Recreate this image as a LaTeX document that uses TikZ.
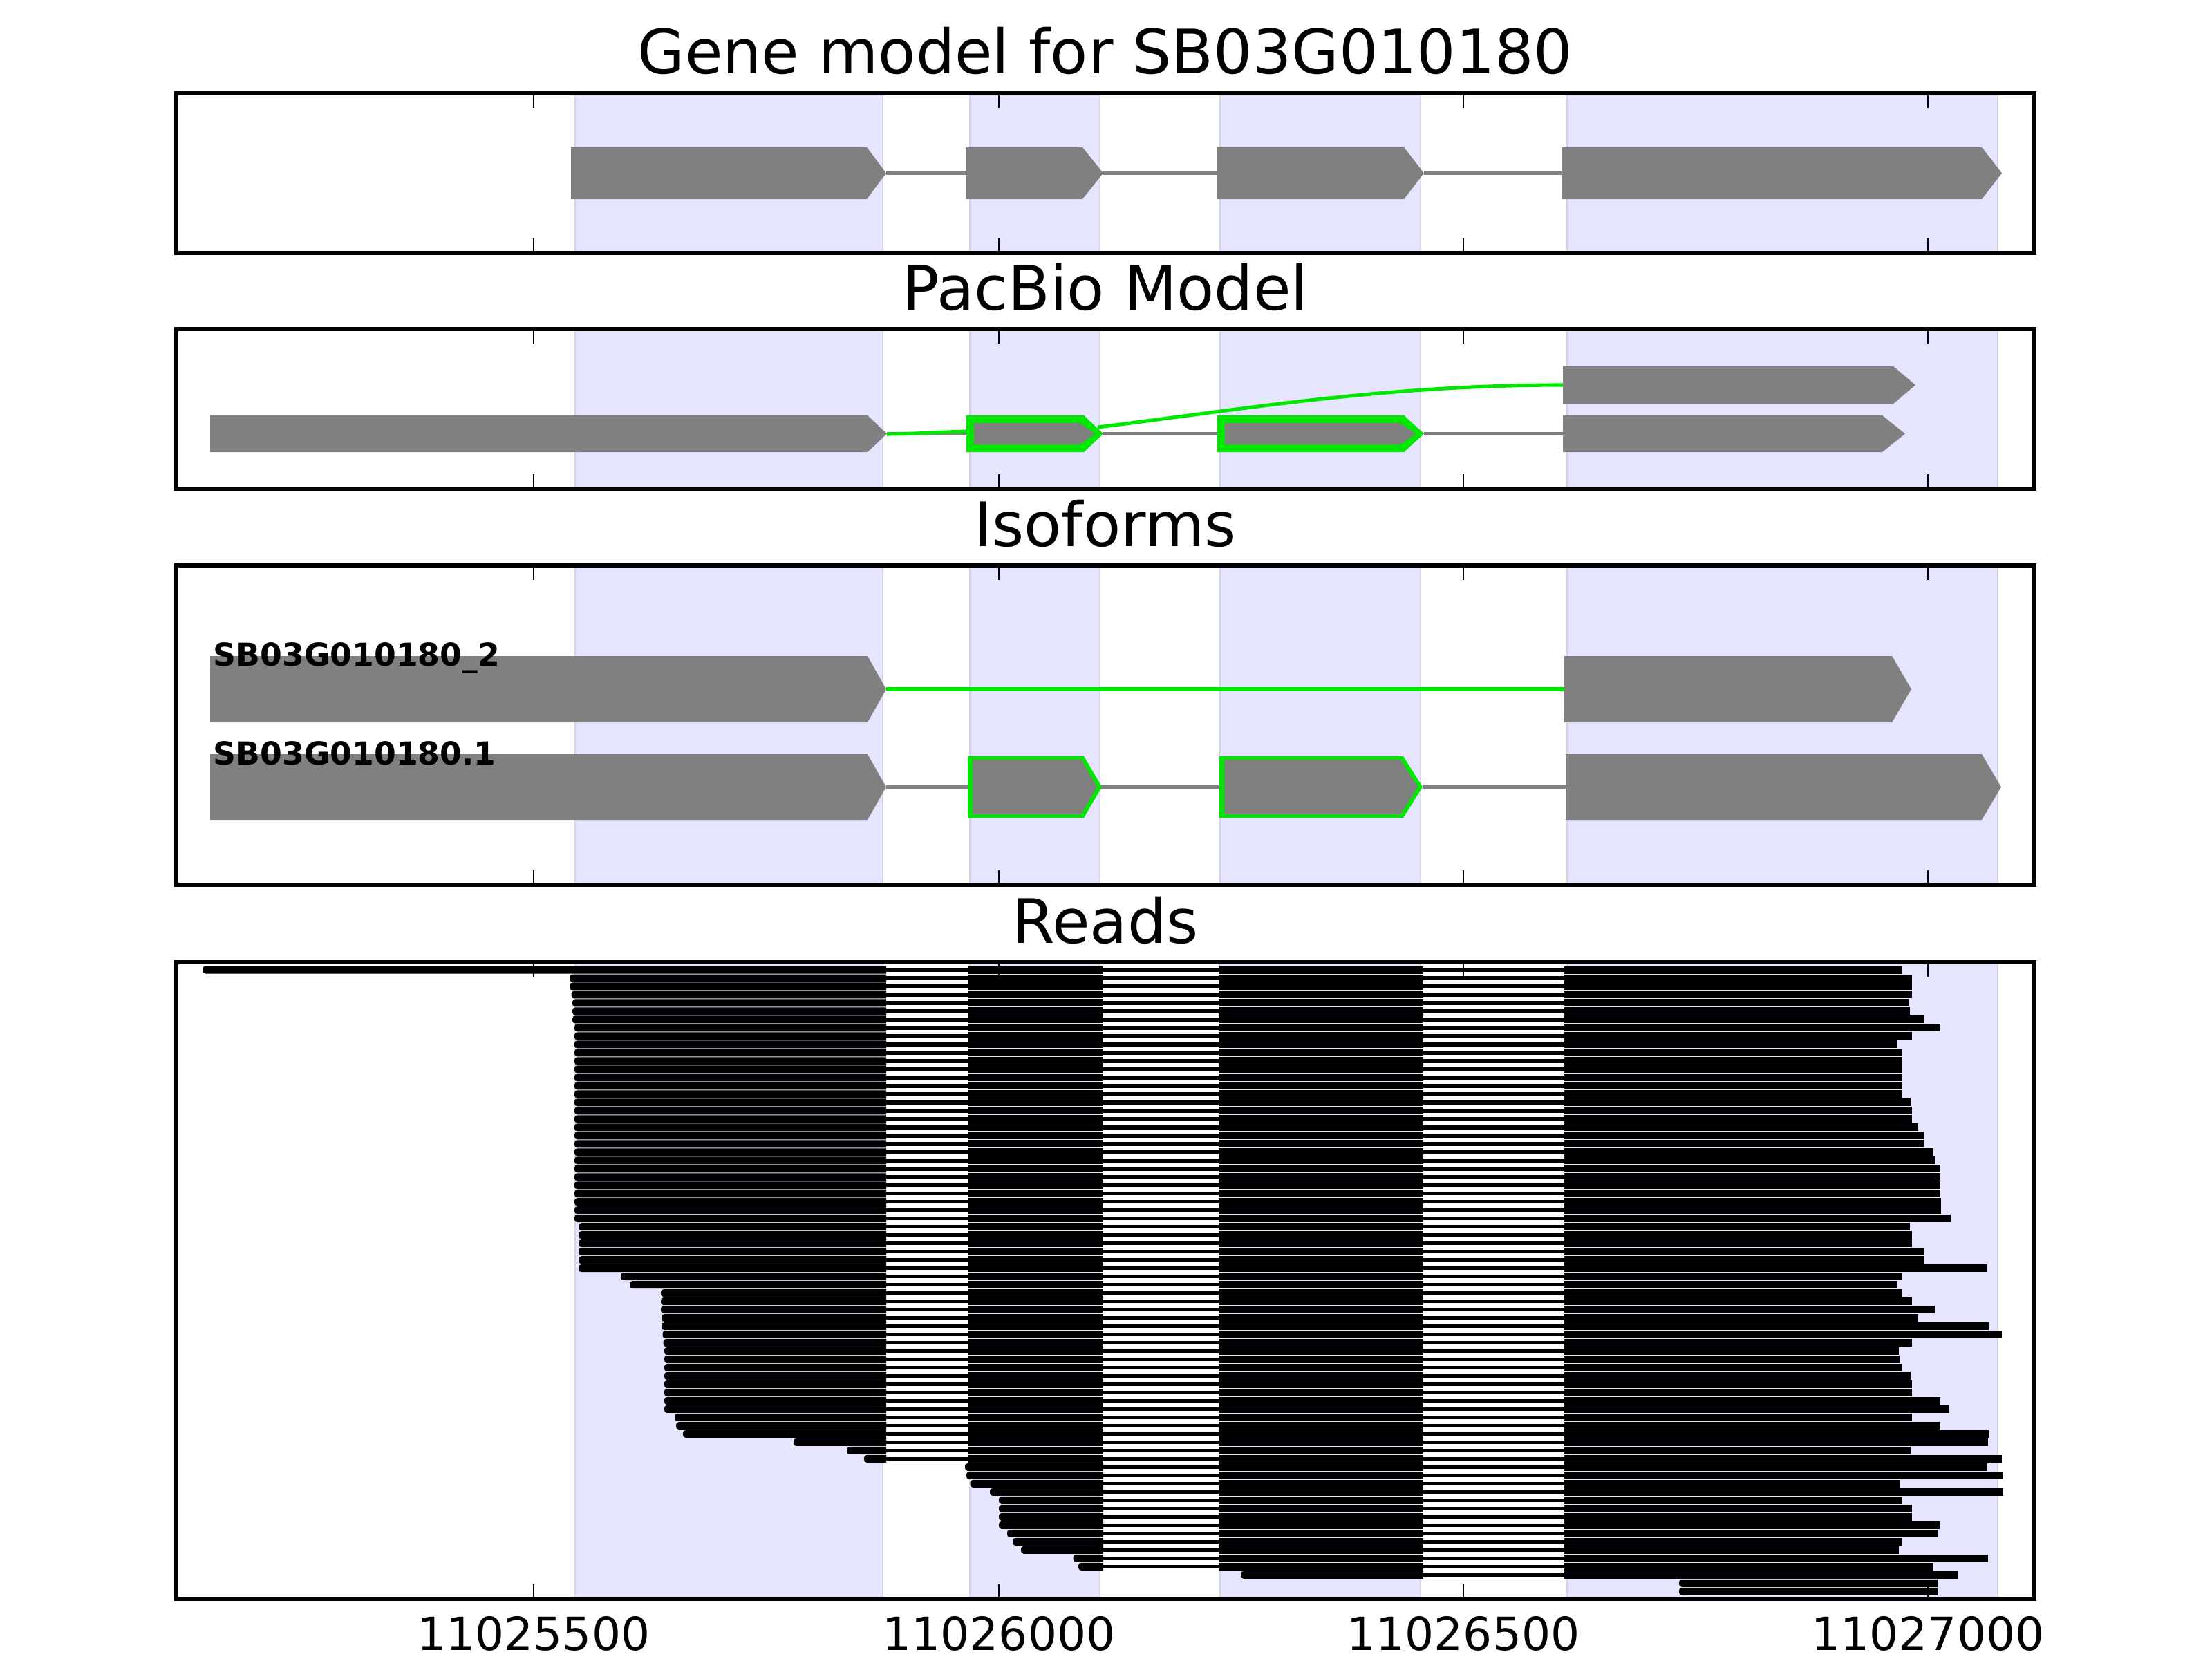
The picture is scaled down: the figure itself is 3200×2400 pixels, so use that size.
\documentclass[tikz,border=0pt]{standalone}
\usepackage{fontspec}
\setmainfont{DejaVu Sans}
\definecolor{exgrey}{RGB}{128,128,128}
\definecolor{spanfill}{RGB}{229,229,255}
\definecolor{spanedge}{RGB}{212,212,232}
\definecolor{isogreen}{RGB}{0,232,0}
\tikzset{
  frame/.style={draw=black,line width=1.45pt},
  tickmark/.style={draw=black,line width=0.6pt},
  spanbox/.style={fill=spanfill,draw=spanedge,line width=0.5pt},
  exonshape/.style={fill=exgrey},
  greenexon/.style={fill=isogreen},
  intronline/.style={draw=exgrey,line width=1.6pt},
  greenline/.style={draw=isogreen,line width=1.45pt},
  paneltitle/.style={font=\fontsize{25.2}{30}\selectfont,anchor=base,inner sep=0pt},
  ticklabel/.style={font=\fontsize{18.8}{22}\selectfont,anchor=base,inner sep=0pt},
  isolabel/.style={font=\fontsize{13}{15}\selectfont\bfseries,anchor=base west,inner sep=0pt},
  readintron/.style={draw=black,line width=1.55pt},
  readbar/.style={fill=black},
}
% exon arrow: x start, body end, tip, y top, y bottom
\newcommand\exonarrow[6][exonshape]{\path[#1] (#2,#5) -- (#3,#5) -- (#4,{(#5+#6)/2}) -- (#3,#6) -- (#2,#6) -- cycle;}
% first read bar with rounded left end: start, end, y
\newcommand\firstbar[3]{\fill[readbar] (#2,#3-5.5) [rounded corners=0.04cm] -- (#1,#3-5.5) -- (#1,#3+5.5) [sharp corners] -- (#2,#3+5.5) -- cycle;}
\newcommand\plainbar[3]{\fill[readbar] (#1,#3-5.5) rectangle (#2,#3+5.5);}
\begin{document}
\begin{tikzpicture}[x=0.01cm,y=-0.01cm]
\fill[white] (0,0) rectangle (3200,2400);
\useasboundingbox (0,0) rectangle (3200,2400);

% shaded exon spans in every panel
\foreach \tp/\bt in {135/366,476/707,818/1280,1392/2313}{
  \foreach \a/\b in {832/1277,1403/1591,1765/2055,2267/2890}{
    \path[spanbox] (\a,\tp+2) rectangle (\b,\bt-2);
  }
}

% titles
\node[paneltitle] (t1) at (1599,107) {Gene model for SB03G010180};
\node[paneltitle] (t2) at (1599,448) {PacBio Model};
\node[paneltitle] (t3) at (1599,790) {Isoforms};
\node[paneltitle] (t4) at (1599,1364) {Reads};

% ---------- Panel 1: gene model ----------
\draw[intronline] (1282,250.5) -- (1397,250.5) (1596,250.5) -- (1760,250.5) (2060,250.5) -- (2260,250.5);
\exonarrow{826}{1254}{1282}{213}{288}
\exonarrow{1397}{1566}{1596}{213}{288}
\exonarrow{1760}{2031}{2060}{213}{288}
\exonarrow{2260}{2867}{2896}{213}{288}

% ---------- Panel 2: PacBio model ----------
\draw[intronline] (1283,627.5) -- (1398,627.5) (1596,627.5) -- (1761,627.5) (2060,627.5) -- (2261,627.5);
\draw[greenline] (1283,628) .. controls (1330,627.5) and (1360,625) .. (1400,624);
\draw[greenline] (1588,618) .. controls (1800,592) and (2000,557) .. (2262,557);
\exonarrow{304}{1255}{1283}{601}{654}
\exonarrow[greenexon]{1398}{1568}{1596}{601}{654}
\exonarrow{1409}{1562}{1584}{612}{643}
\exonarrow[greenexon]{1761}{2031}{2060}{601}{654}
\exonarrow{1772}{2025}{2048}{612}{643}
\exonarrow{2261}{2723}{2756}{601}{654}
\exonarrow{2261}{2739}{2771}{530}{584}

% ---------- Panel 3: isoforms ----------
\draw[greenline] (1282,997) -- (2263,997);
\exonarrow{304}{1255}{1282}{949}{1045}
\exonarrow{2263}{2737}{2765}{949}{1045}
\draw[intronline] (1282,1138.5) -- (1400,1138.5) (1593,1138.5) -- (1764,1138.5) (2058,1138.5) -- (2265,1138.5);
\exonarrow{304}{1255}{1282}{1091}{1186}
\exonarrow[greenexon]{1400}{1568}{1594}{1094}{1183}
\exonarrow{1407}{1564}{1587}{1099}{1178}
\exonarrow[greenexon]{1764}{2030}{2058}{1094}{1183}
\exonarrow{1771}{2026}{2051}{1099}{1178}
\exonarrow{2265}{2867}{2895}{1091}{1186}
\node[isolabel] (l2) at (308,963) {SB03G010180\_2};
\node[isolabel] (l1) at (308,1106) {SB03G010180.1};

% ---------- Panel 4: reads ----------
% reads starting in exon 1
\foreach \i/\s/\e in {0/293/2751.5,1/824/2766,2/824/2766,3/826.5/2766,4/828/2760.6,5/828/2762.5,6/828/2783.5,7/831/2806.5,8/831/2766,9/831/2744,10/831/2751.5,11/831/2751.5,12/831/2751.5,13/831/2751.5,14/831/2752.4,15/831/2752.4,16/831/2763.5,17/831/2766,18/831/2766,19/831/2774.5,20/831/2782.6,21/831/2782.6,22/831/2797.4,23/831/2799,24/831/2806.5,25/831/2806.5,26/831/2806.5,27/831/2806.5,28/831/2807.5,29/831/2807.5,30/831/2822,31/837/2762.5,32/837/2766,33/837/2766,34/837/2783.5,35/837/2783.5,36/837/2873.5,37/898/2751.5,38/911/2744,39/956/2751.5,40/956/2766,41/956/2799,42/957/2774.5,43/957/2877,44/958.5/2896,45/959.5/2766,46/961/2746.7,47/961/2747.7,48/961/2751.5,49/961/2764.4,50/961/2766,51/961/2766,52/961/2806.5,53/961/2820,54/976/2766,55/978/2805.5,56/988/2877,57/1148/2876,58/1225/2764.4,59/1250/2896}{
  \pgfmathsetmacro\yy{1403+11.99*\i}
  \draw[readintron] (1282,\yy) -- (1400,\yy) (1596,\yy) -- (1763,\yy) (2059,\yy) -- (2263,\yy);
  \firstbar{\s}{1282}{\yy}
  \plainbar{1400}{1596}{\yy}
  \plainbar{1763}{2059}{\yy}
  \plainbar{2263}{\e}{\yy}
}
% reads starting in exon 2
\foreach \i/\s/\e in {60/1396/2875.4,61/1398/2898,62/1403.5/2748.6,63/1432/2898,64/1445/2751.5,65/1445/2766,66/1445/2766,67/1445/2805.5,68/1457/2802.7,69/1465/2751.5,70/1477/2746.7,71/1552.6/2876,72/1560/2797.4}{
  \pgfmathsetmacro\yy{1403+11.99*\i}
  \draw[readintron] (1596,\yy) -- (1763,\yy) (2059,\yy) -- (2263,\yy);
  \firstbar{\s}{1596}{\yy}
  \plainbar{1763}{2059}{\yy}
  \plainbar{2263}{\e}{\yy}
}
% read starting in exon 3
\foreach \i/\s/\e in {73/1795/2832}{
  \pgfmathsetmacro\yy{1403+11.99*\i}
  \draw[readintron] (2059,\yy) -- (2263,\yy);
  \firstbar{\s}{2059}{\yy}
  \plainbar{2263}{\e}{\yy}
}
% reads inside exon 4
\foreach \i/\s/\e in {74/2429/2803,75/2429/2803}{
  \pgfmathsetmacro\yy{1403+11.99*\i}
  \firstbar{\s}{\e}{\yy}
}

% ticks and frames
\foreach \tp/\bt in {135/366,476/707,818/1280,1392/2313}{
  \foreach \t in {772,1445,2117,2789}{
    \draw[tickmark] (\t,\tp) -- (\t,\tp+21);
    \draw[tickmark] (\t,\bt) -- (\t,\bt-21);
  }
  \draw[frame] (255,\tp) rectangle (2943,\bt);
}

% axis labels
\node[ticklabel] (x1) at (772,2387) {11025500};
\node[ticklabel] (x2) at (1445,2387) {11026000};
\node[ticklabel] (x3) at (2117,2387) {11026500};
\node[ticklabel] (x4) at (2789,2387) {11027000};
\end{tikzpicture}
\end{document}
